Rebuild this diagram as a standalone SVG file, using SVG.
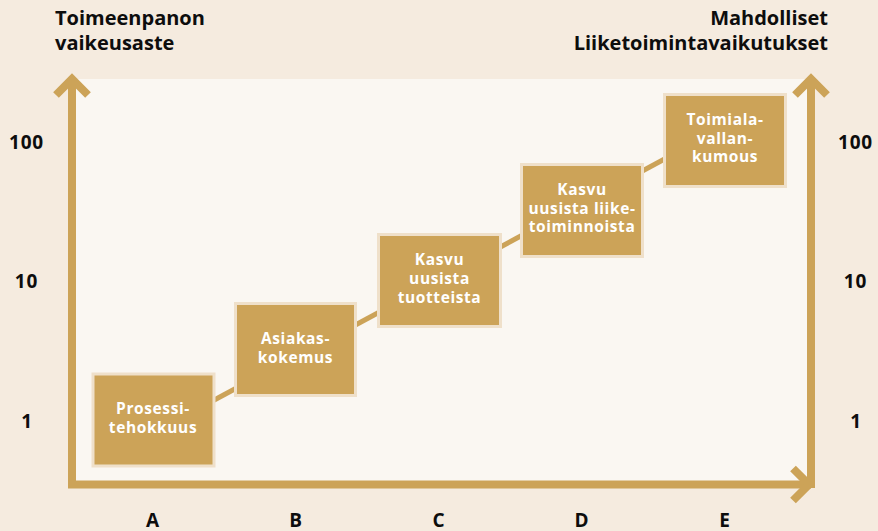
<svg xmlns="http://www.w3.org/2000/svg" width="878" height="531" viewBox="0 0 878 531">
  <style>
    .title { font-family: "Open Sans", "Liberation Sans", sans-serif; font-weight: 700; font-size: 20px; fill: #0d0d0d; }
    .num { font-family: "Open Sans", "Liberation Sans", sans-serif; font-weight: 700; font-size: 19px; fill: #0d0d0d; text-anchor: middle; letter-spacing: 0.8px; }
    .lbl { font-family: "Open Sans", "Liberation Sans", sans-serif; font-weight: 700; font-size: 15.5px; fill: #ffffff; text-anchor: middle; letter-spacing: 0.6px; }
    .box { fill: #cca358; stroke: #efe0ca; stroke-width: 3; }
    .axis { fill: none; stroke: #cca358; stroke-width: 8; stroke-linecap: butt; stroke-linejoin: miter; }
    .conn { stroke: #cca358; stroke-width: 5; fill: none; }
  </style>
  <rect x="0" y="0" width="878" height="531" fill="#f5ebdf"/>
  <rect x="72" y="79" width="739" height="406" fill="#faf7f2"/>

  <g id="axes">
    <path class="axis" d="M72 78 V484.5 H811 M811 488 V78"/>
    <polyline class="axis" points="56,95 72,79 88,95"/>
    <polyline class="axis" points="795,95 811,79 827,95"/>
    <polyline class="axis" points="793,468.5 809,484.5 793,500.5"/>
  </g>

  <g id="axis-titles">
    <text class="title" x="55" y="25">Toimeenpanon</text>
    <text class="title" x="55" y="50">vaikeusaste</text>
    <text class="title" x="828" y="25" text-anchor="end">Mahdolliset</text>
    <text class="title" x="828" y="50" text-anchor="end">Liiketoimintavaikutukset</text>
  </g>

  <g id="y-labels">
    <text class="num" x="26.5" y="149">100</text>
    <text class="num" x="26.5" y="288">10</text>
    <text class="num" x="27" y="428">1</text>
    <text class="num" x="855.5" y="149">100</text>
    <text class="num" x="855.5" y="288">10</text>
    <text class="num" x="856" y="428">1</text>
  </g>

  <g id="x-labels">
    <text class="num" x="153" y="527">A</text>
    <text class="num" x="296" y="527">B</text>
    <text class="num" x="439" y="527">C</text>
    <text class="num" x="582" y="527">D</text>
    <text class="num" x="725" y="527">E</text>
  </g>

  <g id="connectors">
    <line class="conn" x1="205" y1="405" x2="244" y2="384"/>
    <line class="conn" x1="348" y1="329" x2="387" y2="308"/>
    <line class="conn" x1="492" y1="251.5" x2="530" y2="231"/>
    <line class="conn" x1="634" y1="175.5" x2="672" y2="155"/>
  </g>

  <g id="node-A">
    <rect class="box" x="93" y="374" width="121" height="92"/>
    <text class="lbl" x="153" y="413.5">Prosessi-</text>
    <text class="lbl" x="153" y="432.5">tehokkuus</text>
  </g>
  <g id="node-B">
    <rect class="box" x="235.5" y="303.5" width="120" height="92"/>
    <text class="lbl" x="295.5" y="344">Asiakas-</text>
    <text class="lbl" x="295.5" y="363">kokemus</text>
  </g>
  <g id="node-C">
    <rect class="box" x="378.5" y="234.5" width="122" height="92"/>
    <text class="lbl" x="439.5" y="265">Kasvu</text>
    <text class="lbl" x="439.5" y="284">uusista</text>
    <text class="lbl" x="439.5" y="302.5">tuotteista</text>
  </g>
  <g id="node-D">
    <rect class="box" x="521.5" y="164.5" width="121" height="92"/>
    <text class="lbl" x="582" y="195">Kasvu</text>
    <text class="lbl" x="582" y="213.5">uusista liike-</text>
    <text class="lbl" x="582" y="232">toiminnoista</text>
  </g>
  <g id="node-E">
    <rect class="box" x="664.5" y="94.5" width="121" height="92"/>
    <text class="lbl" x="725" y="125">Toimiala-</text>
    <text class="lbl" x="725" y="143.5">vallan-</text>
    <text class="lbl" x="725" y="162">kumous</text>
  </g>
</svg>
